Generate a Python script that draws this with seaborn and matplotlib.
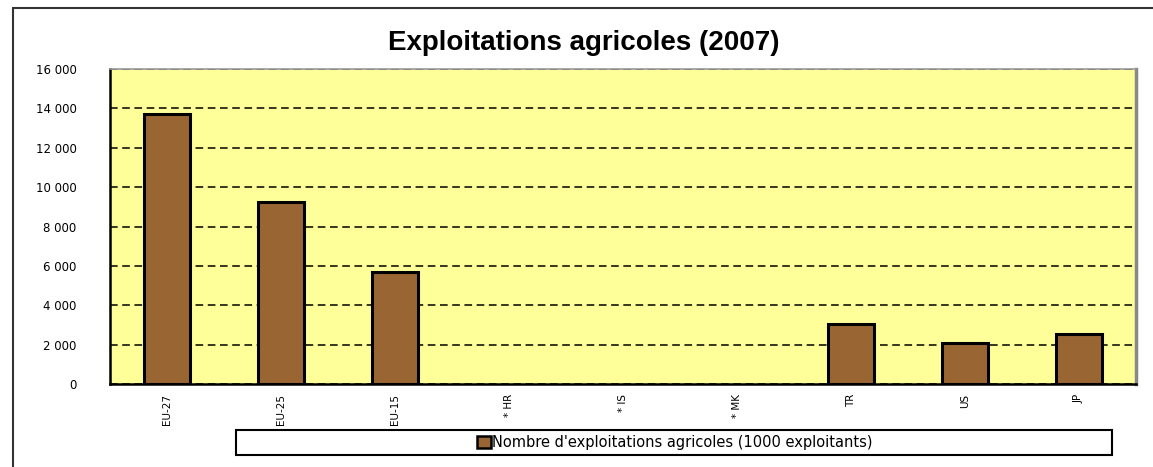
import numpy as np
import pandas as pd
import matplotlib
matplotlib.use("Agg")
import matplotlib.pyplot as plt
import seaborn as sns
from matplotlib.patches import Rectangle, Patch
from matplotlib.ticker import FuncFormatter, FixedLocator

# Data (1000 holdings); HR, IS, MK have no value
countries = ["EU-27", "EU-25", "EU-15", "* HR", "* IS", "* MK", "TR", "US", "JP"]
holdings = [13700, 9260, 5700, np.nan, np.nan, np.nan, 3050, 2100, 2550]
y_ticks = [0, 2000, 4000, 6000, 8000, 10000, 12000, 14000, 16000]
series_label = "Nombre d'exploitations agricoles (1000 exploitants)"

BAR_COLOR = "#996633"
BG_COLOR = "#FFFF99"

sns.set_style("white")
plt.rcParams["font.family"] = ["DejaVu Sans"]
plt.rcParams.update({"text.color": "black", "xtick.color": "black", "ytick.color": "black"})

df = pd.DataFrame({"country": countries, "holdings": holdings})

fig = plt.figure(figsize=(11.53, 4.67), dpi=100)
ax = fig.add_axes([110 / 1153, 83 / 467, 1026 / 1153, 315 / 467])

sns.barplot(data=df, x="country", y="holdings", color=BAR_COLOR, width=0.4,
            edgecolor="black", linewidth=2.2, saturation=1, ax=ax)

ax.set_facecolor(BG_COLOR)
ax.set_ylim(0, 16000)
ax.set_xlim(-0.5, len(countries) - 0.5)
ax.set_yticks(y_ticks)
ax.yaxis.set_major_formatter(FuncFormatter(lambda v, _: f"{int(v):,}".replace(",", " ")))
ax.yaxis.grid(True, linestyle=(0, (5, 3)), color="black", linewidth=1.1)
ax.set_axisbelow(True)

# category ticks between bars, Excel style
ax.xaxis.set_minor_locator(FixedLocator(np.arange(-0.5, len(countries), 1)))
ax.tick_params(axis="x", which="major", length=0, labelsize=7.5, rotation=90, pad=7)
ax.tick_params(axis="x", which="minor", length=5, width=1.5, direction="out", color="black")
ax.tick_params(axis="y", length=5, width=1.5, direction="out", color="black", labelsize=8.5, pad=19)
ax.set_xlabel("")
ax.set_ylabel("")

for side in ["left", "bottom"]:
    ax.spines[side].set_color("black")
    ax.spines[side].set_linewidth(1.8)
ax.spines["top"].set_color("#999999")
ax.spines["top"].set_linewidth(1.2)
ax.spines["right"].set_color("#888888")
ax.spines["right"].set_linewidth(2.5)

fig.text(584 / 1153, 1 - 43 / 467, "Exploitations agricoles (2007)",
         ha="center", va="center", fontsize=20, fontweight="bold",
         family="Liberation Sans", color="black")

# outer frame
fig.patches.append(Rectangle((13 / 1153, -0.05), 1.1, 1 - 8 / 467 + 0.05,
                             transform=fig.transFigure, fill=False,
                             edgecolor="#333333", linewidth=1.5))

# legend box
fig.patches.append(Rectangle((236 / 1153, 12 / 467), 876 / 1153, 25 / 467,
                             transform=fig.transFigure, fill=False,
                             edgecolor="black", linewidth=1.5))
handle = Patch(facecolor=BAR_COLOR, edgecolor="black", linewidth=1.8)
fig.legend([handle], [series_label], loc="center",
           bbox_to_anchor=(675 / 1153, 24.5 / 467), frameon=False,
           fontsize=10.5, handlelength=0.9, handleheight=0.9, handletextpad=0.1)

fig.savefig("out.png", dpi=100)
